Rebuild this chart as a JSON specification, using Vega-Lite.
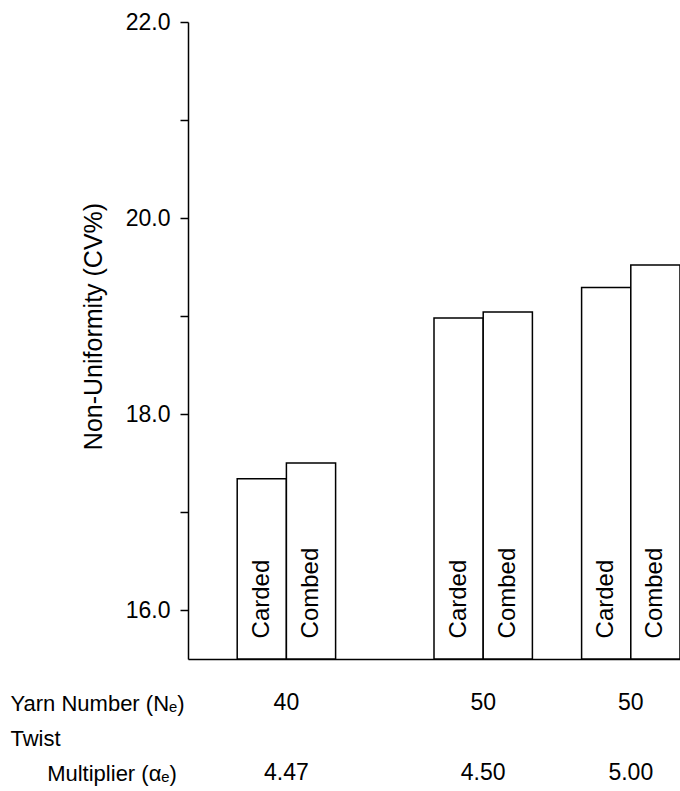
{
  "$schema": "https://vega.github.io/schema/vega-lite/v6.json",
  "width": 492,
  "height": 637,
  "autosize": {"type": "none"},
  "padding": {"left": 188, "top": 22, "right": 0, "bottom": 132},
  "background": "white",
  "config": {"view": {"stroke": null}, "font": "Liberation Sans"},
  "data": {
    "values": [
      {"bar": "40/4.47 Carded", "process": "Carded", "yarn": "40", "tm": "4.47", "cv": 17.34},
      {"bar": "40/4.47 Combed", "process": "Combed", "yarn": "40", "tm": "4.47", "cv": 17.5},
      {"bar": "50/4.50 Carded", "process": "Carded", "yarn": "50", "tm": "4.50", "cv": 18.98},
      {"bar": "50/4.50 Combed", "process": "Combed", "yarn": "50", "tm": "4.50", "cv": 19.04},
      {"bar": "50/5.00 Carded", "process": "Carded", "yarn": "50", "tm": "5.00", "cv": 19.29},
      {"bar": "50/5.00 Combed", "process": "Combed", "yarn": "50", "tm": "5.00", "cv": 19.52}
    ]
  },
  "encoding": {
    "x": {
      "field": "bar",
      "type": "nominal",
      "scale": {
        "domain": ["_a", "40/4.47 Carded", "40/4.47 Combed", "_b", "_c", "50/4.50 Carded", "50/4.50 Combed", "_d", "50/5.00 Carded", "50/5.00 Combed"],
        "paddingInner": 0,
        "paddingOuter": 0
      },
      "axis": {
        "orient": "bottom",
        "labels": false,
        "ticks": false,
        "domain": true,
        "domainColor": "black",
        "domainWidth": 1.5,
        "title": ["Yarn  Number (Nₑ)", "Twist", "\u200b\u00a0\u00a0\u00a0\u00a0\u00a0\u00a0Multiplier (αₑ)"],
        "titleFont": "Liberation Sans",
        "titleFontSize": 22,
        "titleFontWeight": "normal",
        "titleColor": "black",
        "titleAlign": "left",
        "titleAnchor": "start",
        "titleX": -178,
        "titleY": 51,
        "titleBaseline": "alphabetic",
        "titleLineHeight": 35
      }
    }
  },
  "layer": [
    {
      "mark": {"type": "bar", "fill": "white", "stroke": "black", "strokeWidth": 1.5},
      "encoding": {
        "y": {
          "field": "cv",
          "type": "quantitative",
          "scale": {"domain": [15.5, 22], "zero": false, "nice": false},
          "axis": {
            "values": [16, 17, 18, 19, 20, 21, 22],
            "labelExpr": "datum.value % 2 == 0 ? format(datum.value, '.1f') : ''",
            "grid": false,
            "tickSize": 8,
            "tickWidth": 1.5,
            "tickColor": "black",
            "domainColor": "black",
            "domainWidth": 1.5,
            "labelFont": "Liberation Sans",
            "labelFontSize": 23,
            "labelColor": "black",
            "labelPadding": 10,
            "title": "Non-Uniformity (CV%)",
            "titleFont": "Liberation Sans",
            "titleFontSize": 25,
            "titleFontWeight": "normal",
            "titleColor": "black",
            "titleAngle": 270,
            "titleX": -95,
            "titleY": 304,
            "titleAlign": "center",
            "titleBaseline": "middle"
          }
        },
        "y2": {"datum": 15.5}
      }
    },
    {
      "mark": {"type": "text", "angle": 270, "align": "left", "baseline": "middle", "fontSize": 24, "color": "black"},
      "encoding": {
        "y": {"datum": 15.71, "type": "quantitative"},
        "text": {"field": "process"}
      }
    },
    {
      "transform": [{"filter": "datum.process == 'Combed'"}],
      "mark": {"type": "text", "align": "center", "baseline": "alphabetic", "fontSize": 23, "color": "black"},
      "encoding": {
        "x": {"field": "bar", "type": "nominal", "bandPosition": 0},
        "y": {"datum": 14.98, "type": "quantitative"},
        "text": {"field": "yarn"}
      }
    },
    {
      "transform": [{"filter": "datum.process == 'Combed'"}],
      "mark": {"type": "text", "align": "center", "baseline": "alphabetic", "fontSize": 23, "color": "black"},
      "encoding": {
        "x": {"field": "bar", "type": "nominal", "bandPosition": 0},
        "y": {"datum": 14.265, "type": "quantitative"},
        "text": {"field": "tm"}
      }
    }
  ]
}
